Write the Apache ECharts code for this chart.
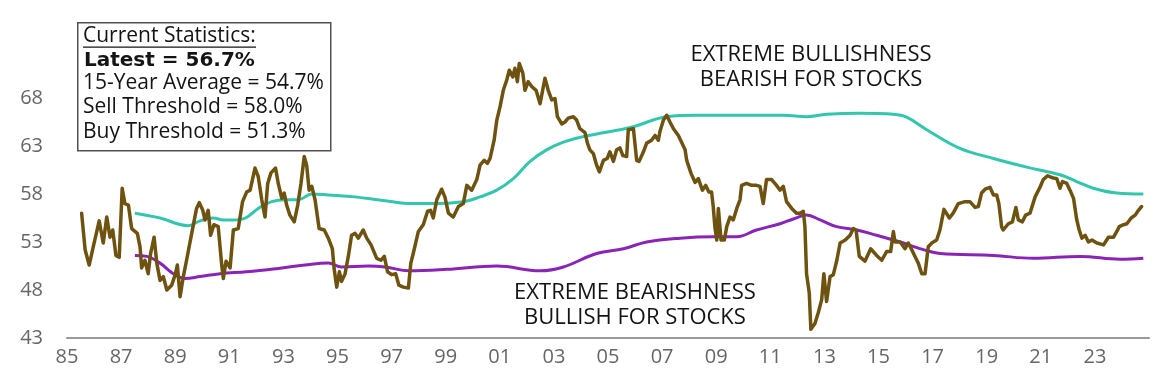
<!DOCTYPE html>
<html>
<head>
<meta charset="utf-8">
<script src="https://cdn.jsdelivr.net/npm/echarts@6/dist/echarts.min.js"></script>
<style>
html,body{margin:0;padding:0;background:#fff;}
#chart{width:1152px;height:381px;}
</style>
</head>
<body>
<div id="chart"></div>
<script>
// ---- Data ----
var sentimentDates = [1985.54,1985.67,1985.82,1985.97,1986.19,1986.34,1986.47,1986.59,1986.69,1986.81,1986.93,1987.04,1987.14,1987.27,1987.39,1987.6,1987.7,1987.76,1987.88,1988.0,1988.09,1988.22,1988.32,1988.44,1988.56,1988.69,1988.87,1989.0,1989.08,1989.18,1989.3,1989.42,1989.61,1989.79,1989.89,1990.02,1990.1,1990.22,1990.31,1990.43,1990.59,1990.72,1990.78,1990.88,1991.03,1991.15,1991.33,1991.49,1991.64,1991.77,1991.95,1992.07,1992.2,1992.32,1992.42,1992.54,1992.71,1992.81,1992.94,1993.03,1993.12,1993.24,1993.4,1993.53,1993.65,1993.77,1993.86,1993.95,1994.05,1994.17,1994.32,1994.51,1994.66,1994.81,1994.88,1994.97,1995.07,1995.15,1995.28,1995.4,1995.52,1995.65,1995.77,1995.95,1996.08,1996.24,1996.45,1996.61,1996.73,1996.85,1997.0,1997.15,1997.27,1997.43,1997.62,1997.71,1997.8,1997.99,1998.17,1998.33,1998.44,1998.54,1998.67,1998.85,1998.97,1999.1,1999.28,1999.47,1999.65,1999.78,1999.96,2000.15,2000.27,2000.42,2000.54,2000.64,2000.79,2000.89,2001.01,2001.13,2001.26,2001.35,2001.48,2001.56,2001.65,2001.72,2001.85,2001.93,2002.05,2002.18,2002.34,2002.49,2002.61,2002.67,2002.79,2002.92,2003.04,2003.13,2003.29,2003.41,2003.53,2003.72,2003.84,2003.96,2004.15,2004.24,2004.33,2004.46,2004.58,2004.68,2004.83,2004.97,2005.07,2005.2,2005.32,2005.44,2005.55,2005.69,2005.75,2005.94,2006.06,2006.15,2006.31,2006.43,2006.61,2006.74,2006.86,2006.92,2007.05,2007.17,2007.29,2007.42,2007.6,2007.72,2007.85,2007.91,2008.07,2008.22,2008.34,2008.49,2008.61,2008.73,2008.83,2008.89,2008.95,2009.02,2009.08,2009.18,2009.3,2009.39,2009.51,2009.63,2009.76,2009.88,2009.94,2010.12,2010.31,2010.49,2010.62,2010.74,2010.86,2011.05,2011.23,2011.36,2011.48,2011.6,2011.79,2011.97,2012.1,2012.22,2012.28,2012.34,2012.44,2012.5,2012.65,2012.77,2012.9,2012.98,2013.08,2013.21,2013.33,2013.46,2013.58,2013.77,2013.95,2014.07,2014.17,2014.29,2014.5,2014.71,2014.93,2015.12,2015.3,2015.45,2015.55,2015.61,2015.8,2015.98,2016.1,2016.23,2016.35,2016.47,2016.6,2016.72,2016.84,2016.97,2017.15,2017.27,2017.42,2017.62,2017.76,2017.95,2018.2,2018.38,2018.57,2018.69,2018.81,2018.94,2019.12,2019.25,2019.37,2019.45,2019.55,2019.61,2019.8,2019.95,2020.08,2020.17,2020.32,2020.44,2020.6,2020.79,2020.97,2021.09,2021.25,2021.42,2021.59,2021.71,2021.8,2021.96,2022.08,2022.21,2022.33,2022.42,2022.52,2022.64,2022.76,2022.89,2023.07,2023.32,2023.5,2023.69,2023.81,2023.9,2024.06,2024.18,2024.34,2024.49,2024.61,2024.73];
var sentimentValues = [56.0,52.2,50.6,52.5,55.2,52.9,55.6,53.5,54.25,51.6,51.4,58.6,57.0,56.85,54.4,53.9,52.5,50.3,51.1,49.7,51.8,53.5,50.8,49.0,49.4,48.0,48.5,49.6,50.6,47.3,49.4,51.1,53.9,56.5,57.1,56.3,55.3,56.3,53.7,54.8,54.6,50.6,49.2,51.0,50.3,54.25,54.4,57.2,58.2,58.4,60.7,59.8,57.4,55.6,59.1,60.2,60.7,59.1,57.55,58.1,56.85,55.8,55.1,56.85,59.1,61.9,61.0,58.4,58.8,57.4,54.4,54.25,53.4,52.3,50.1,48.3,49.9,48.9,49.7,51.5,53.7,53.9,53.4,54.25,53.4,52.7,51.3,51.1,51.5,49.9,49.6,49.7,48.5,48.3,48.2,50.8,51.8,54.1,54.8,56.2,56.3,55.5,57.4,58.5,57.7,56.0,55.6,56.7,57.0,58.9,58.4,59.5,61.0,61.5,61.2,61.7,63.6,65.7,67.1,68.8,69.9,70.9,70.2,71.1,69.7,71.6,70.6,68.8,69.7,69.2,68.8,67.4,69.2,70.05,68.8,67.8,67.95,66.05,65.3,65.5,65.9,66.05,65.7,64.8,64.4,63.3,62.6,62.2,61.0,60.3,61.5,61.7,62.4,61.4,62.6,62.8,62.0,61.9,64.7,64.8,61.5,61.4,62.4,63.3,63.6,64.1,63.6,64.5,65.7,66.2,65.5,64.8,64.1,63.4,62.6,61.5,60.15,59.2,59.6,58.4,58.9,58.2,58.2,56.7,54.6,53.2,56.5,53.2,53.2,54.6,55.6,55.3,56.5,57.4,58.9,59.1,58.9,58.9,58.8,57.0,59.5,59.5,58.9,58.4,58.8,57.2,56.5,56.0,56.0,56.2,54.6,49.7,47.7,43.9,44.5,45.6,47.0,49.7,46.8,49.4,49.6,51.1,52.9,53.2,53.7,54.4,54.25,51.5,51.0,52.3,51.6,51.1,52.0,52.0,54.1,53.0,53.0,52.3,52.9,52.2,51.5,50.8,49.7,49.7,52.5,52.9,53.2,54.25,56.4,55.5,56.0,57.0,57.2,57.2,56.6,56.7,58.1,58.5,58.7,57.9,57.9,57.0,54.6,54.25,54.9,55.1,56.6,55.3,55.1,55.8,56.0,57.7,58.7,59.5,59.9,59.7,59.6,58.6,59.3,59.1,58.4,57.55,55.3,54.25,53.4,53.7,53.0,53.2,52.9,52.7,53.5,53.5,54.1,54.6,54.8,54.9,55.5,55.8,56.3,56.7];

var sellDates = [1987.51,1988.44,1989.48,1989.92,1990.41,1990.78,1991.15,1991.6,1992.07,1992.57,1993.06,1993.55,1994.05,1994.66,1995.65,1996.76,1997.74,1998.45,1999.65,2000.27,2000.89,2001.5,2002.12,2002.73,2003.35,2003.96,2004.58,2005.44,2005.94,2007.17,2008.28,2009.5,2010.62,2011.5,2012.34,2013.08,2014.31,2015.55,2016.04,2016.78,2018.01,2019.25,2020.48,2021.71,2022.33,2022.94,2023.81,2024.79];
var sellValues = [56.0,55.5,54.7,55.2,55.5,55.3,55.3,55.5,56.5,57.2,57.4,57.4,58.0,57.9,57.7,57.3,57.0,57.0,57.2,57.7,58.4,59.6,61.4,62.6,63.4,63.9,64.25,64.7,65.0,66.05,66.2,66.2,66.2,66.2,66.05,66.3,66.4,66.3,66.0,64.7,62.75,61.7,60.8,60.0,59.3,58.6,58.1,58.0];

var buyDates = [1987.51,1987.95,1988.44,1988.93,1989.36,1989.92,1990.66,1991.64,1992.81,1993.8,1994.66,1995.15,1996.14,1996.76,1997.65,1999.04,2000.89,2002.49,2003.35,2004.58,2005.57,2006.43,2007.66,2008.89,2009.76,2010.49,2011.36,2011.85,2012.34,2012.84,2013.45,2014.19,2014.93,2015.8,2016.66,2017.27,2019.25,2020.72,2022.45,2023.93,2024.79];
var buyValues = [51.6,51.5,50.8,49.7,49.2,49.4,49.7,49.9,50.25,50.6,50.8,50.4,50.5,50.4,50.0,50.15,50.5,50.0,50.4,51.8,52.3,53.0,53.4,53.55,53.55,54.25,54.9,55.4,55.8,55.3,54.6,54.25,53.7,53.0,52.2,51.8,51.6,51.3,51.5,51.2,51.3];

var yTicks = [43, 48, 53, 58, 63, 68];
var xTickYears = [1985,1987,1989,1991,1993,1995,1997,1999,2001,2003,2005,2007,2009,2011,2013,2015,2017,2019,2021,2023];

var statsLines = ['Current Statistics:', 'Latest = 56.7%', '15-Year Average = 54.7%', 'Sell Threshold = 58.0%', 'Buy Threshold = 51.3%'];
var noteTop = ['EXTREME BULLISHNESS', 'BEARISH FOR STOCKS'];
var noteBottom = ['EXTREME BEARISHNESS', 'BULLISH FOR STOCKS'];

function pairs(xs, ys) { return xs.map(function (x, i) { return [x, ys[i]]; }); }

var chart = echarts.init(document.getElementById('chart'), null, {renderer: 'canvas'});
var FONT = '"Open Sans", "Noto Sans", sans-serif';
var TXT = '#141414';

var option = {
  animation: false,
  backgroundColor: '#ffffff',
  grid: {left: 67, right: 3, top: 50, bottom: 43, containLabel: false},
  xAxis: {
    type: 'value', min: 1985, max: 2025, interval: 2,
    axisLine: {show: true, lineStyle: {color: '#9a9a9a', width: 2}},
    axisTick: {show: false},
    splitLine: {show: false},
    axisLabel: {
      color: '#666666', fontFamily: FONT, fontSize: 20, margin: 9,
      showMaxLabel: false,
      formatter: function (v) {
        if (xTickYears.indexOf(v) < 0) return '';
        var s = String(v % 100); return s.length < 2 ? '0' + s : s;
      }
    }
  },
  yAxis: {
    type: 'value', min: 43, max: 73, interval: 5,
    axisLine: {show: false}, axisTick: {show: false}, splitLine: {show: false},
    axisLabel: {
      color: '#666666', fontFamily: FONT, fontSize: 20, margin: 24,
      formatter: function (v) { return yTicks.indexOf(v) >= 0 ? String(v) : ''; }
    }
  },
  series: [
    {type: 'line', name: 'Sell Threshold', data: pairs(sellDates, sellValues), smooth: 0.4, showSymbol: false,
      lineStyle: {color: '#33c6ad', width: 3}, z: 2},
    {type: 'line', name: 'Buy Threshold', data: pairs(buyDates, buyValues), smooth: 0.4, showSymbol: false,
      lineStyle: {color: '#8a24b6', width: 3}, z: 2},
    {type: 'line', name: 'Sell Side Indicator', data: pairs(sentimentDates, sentimentValues), smooth: false, showSymbol: false,
      lineStyle: {color: '#6e5210', width: 3.5, join: 'round', cap: 'round'}, z: 3}
  ],
  graphic: [
    {type: 'rect', left: 77, top: 22, z: 10, shape: {width: 253, height: 128},
      style: {fill: '#ffffff', stroke: '#505050', lineWidth: 1.5}},
    {type: 'text', left: 83, top: 26, z: 11, style: {text: statsLines[0], font: '21px ' + FONT, fill: TXT}},
    {type: 'rect', left: 83, top: 46.5, z: 11, shape: {width: 173, height: 1.3}, style: {fill: TXT}},
    {type: 'text', left: 84, top: 51, z: 11, style: {text: statsLines[1], font: 'bold 20px "DejaVu Sans", Verdana, sans-serif', fill: TXT}},
    {type: 'text', left: 83, top: 73, z: 11, style: {text: statsLines[2], font: '21px ' + FONT, fill: TXT}},
    {type: 'text', left: 83, top: 97, z: 11, style: {text: statsLines[3], font: '21px ' + FONT, fill: TXT}},
    {type: 'text', left: 83, top: 122, z: 11, style: {text: statsLines[4], font: '21px ' + FONT, fill: TXT}},
    {type: 'text', z: 11, x: 811, y: 55, style: {text: noteTop[0], font: '22px ' + FONT, fill: TXT, align: 'center', verticalAlign: 'middle'}},
    {type: 'text', z: 11, x: 811, y: 80, style: {text: noteTop[1], font: '22px ' + FONT, fill: TXT, align: 'center', verticalAlign: 'middle'}},
    {type: 'text', z: 11, x: 635, y: 293, style: {text: noteBottom[0], font: '22px ' + FONT, fill: TXT, align: 'center', verticalAlign: 'middle'}},
    {type: 'text', z: 11, x: 635, y: 318, style: {text: noteBottom[1], font: '22px ' + FONT, fill: TXT, align: 'center', verticalAlign: 'middle'}}
  ]
};
chart.setOption(option);
</script>
</body>
</html>
